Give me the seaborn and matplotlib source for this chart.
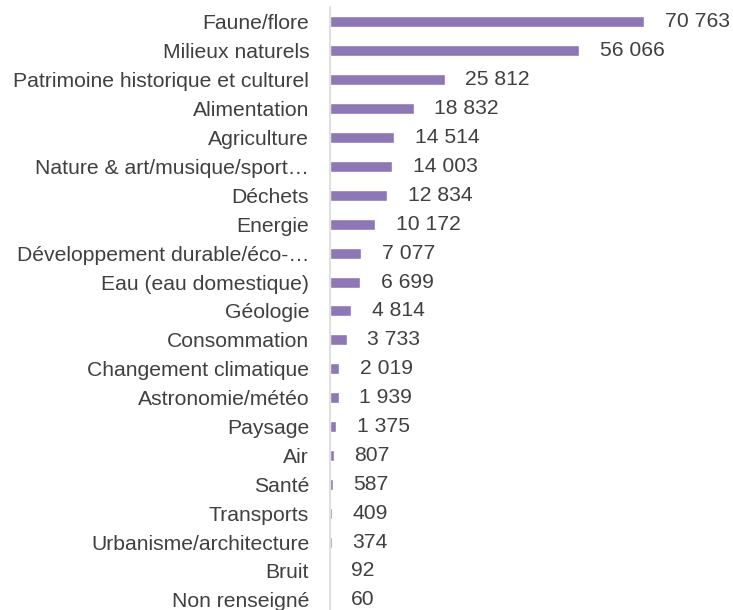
import matplotlib.pyplot as plt
import pandas as pd
import seaborn as sns

# données
categories = [
    "Faune/flore", "Milieux naturels", "Patrimoine historique et culturel",
    "Alimentation", "Agriculture", "Nature & art/musique/sport…", "Déchets",
    "Energie", "Développement durable/éco-…", "Eau (eau domestique)",
    "Géologie", "Consommation", "Changement climatique", "Astronomie/météo",
    "Paysage", "Air", "Santé", "Transports", "Urbanisme/architecture",
    "Bruit", "Non renseigné",
]
values = [70763, 56066, 25812, 18832, 14514, 14003, 12834, 10172, 7077, 6699,
          4814, 3733, 2019, 1939, 1375, 807, 587, 409, 374, 92, 60]

df = pd.DataFrame({"cat": categories, "val": values})

sns.set_theme(style="white")
plt.rcParams['font.family'] = ['Liberation Sans', 'DejaVu Sans']

fig = plt.figure(figsize=(7.33, 6.10), dpi=100)
ax = fig.add_axes([330 / 733, 0.0, 400 / 733, 1 - 7.5 / 610])

sns.barplot(data=df, x="val", y="cat", orient="h", color="#8e77b5",
            saturation=1, width=0.38, ax=ax)

ax.set_xlim(0, 70763 * 400 / 314)
ax.set_ylim(20.35, -0.5)

for i, v in enumerate(values):
    ax.annotate(f"{v:,}".replace(",", " "), xy=(v, i), xytext=(15, 0),
                textcoords="offset points", va="center", ha="left",
                fontsize=15.2, color="#404040", annotation_clip=False)

ax.set_xlabel("")
ax.set_ylabel("")
ax.set_xticks([])
ax.tick_params(axis="y", length=0, pad=15, labelsize=15.2, labelcolor="#404040")
for s in ["top", "right", "bottom"]:
    ax.spines[s].set_visible(False)
ax.spines["left"].set_color("#d9d9d9")
ax.spines["left"].set_linewidth(1.2)

fig.savefig("out.png", dpi=100)
